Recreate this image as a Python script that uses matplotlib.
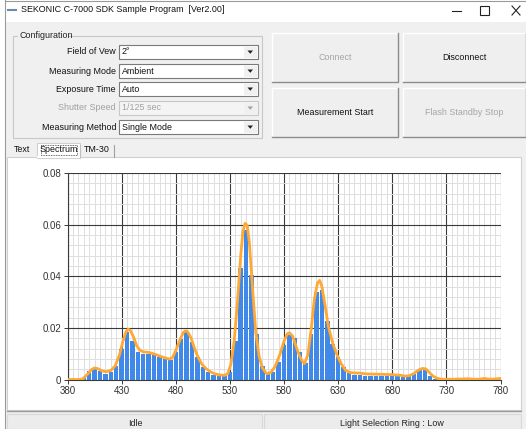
import matplotlib.pyplot as plt
from matplotlib.patches import Rectangle, Polygon
from matplotlib.ticker import MultipleLocator, FuncFormatter

plt.rcParams['font.family'] = ['Liberation Sans', 'DejaVu Sans']

# bar data: 5 nm steps
bar_wl = list(range(380, 785, 5))
bar_val = [0, 0, 0, 0.0006, 0.0032, 0.004, 0.0032, 0.002, 0.0028, 0.0054,
           0.012, 0.0183, 0.015, 0.0106, 0.0099, 0.0099, 0.0093, 0.0086, 0.008, 0.0074,
           0.0106, 0.0158, 0.0183, 0.0145, 0.0087, 0.005, 0.003, 0.0017, 0.0013, 0.0013,
           0.003, 0.015, 0.0432, 0.058, 0.0406, 0.0176, 0.0052, 0.002, 0.003, 0.0069,
           0.0134, 0.0172, 0.016, 0.0106, 0.0063, 0.0177, 0.0338, 0.0345, 0.0228, 0.0138,
           0.0086, 0.0048, 0.0025, 0.0019, 0.0019, 0.0015, 0.0015, 0.0013, 0.0013, 0.0012,
           0.0012, 0.0013, 0.0009, 0.0013, 0.0022, 0.0035, 0.0037, 0.0012, 0.0003, 0,
           0, 0, 0, 0, 0, 0, 0, 0, 0, 0, 0]

# orange curve
curve_wl = [380, 390, 394, 398, 402, 405, 408, 412, 416, 420, 424, 428, 431, 434, 436, 438,
            441, 444, 447, 450, 455, 460, 465, 470, 474, 477, 480, 484, 487, 489, 491, 494,
            497, 500, 504, 508, 512, 516, 520, 525, 528, 531, 534, 537, 540, 542, 544, 546,
            548, 551, 554, 557, 560, 564, 568, 572, 576, 580, 583, 585, 588, 591, 594, 597,
            599, 602, 605, 608, 611, 613, 615, 618, 621, 625, 629, 633, 637, 641, 646, 650,
            655, 660, 670, 680, 688, 692, 696, 700, 704, 708, 711, 714, 718, 722, 726, 735,
            745, 750, 755, 760, 765, 770, 775, 780]
curve_val = [0, 0, 0.0002, 0.0018, 0.0038, 0.0045, 0.0042, 0.0033, 0.003, 0.0035, 0.0052,
             0.0095, 0.0145, 0.0185, 0.0195, 0.019, 0.0165, 0.013, 0.0113, 0.0107, 0.0105,
             0.0099, 0.0091, 0.0084, 0.0079, 0.0085, 0.0112, 0.0155, 0.0182, 0.0189, 0.0185,
             0.0162, 0.0125, 0.0092, 0.006, 0.0042, 0.003, 0.0022, 0.0018, 0.0016, 0.0022,
             0.006, 0.015, 0.03, 0.048, 0.057, 0.0605, 0.0598, 0.053, 0.035, 0.018, 0.009,
             0.0045, 0.0022, 0.0028, 0.0052, 0.0095, 0.0148, 0.0177, 0.0181, 0.0168, 0.013,
             0.0095, 0.007, 0.0062, 0.0095, 0.019, 0.031, 0.0375, 0.0384, 0.036, 0.0285,
             0.0205, 0.014, 0.0095, 0.006, 0.0035, 0.0027, 0.0025, 0.0025, 0.0022, 0.0021,
             0.002, 0.0019, 0.0016, 0.0013, 0.0015, 0.0023, 0.0036, 0.0043, 0.0041, 0.0028,
             0.0012, 0.0004, 0.0001, 0.0001, 0.0002, 0.0003, 0.0001, 0.0001, 0.0004, 0.0001,
             0.0002, 0.0004]
x_ticks = [380, 430, 480, 530, 580, 630, 680, 730, 780]

config_labels = ["Field of Vew", "Measuring Mode", "Exposure Time", "Shutter Speed", "Measuring Method"]
config_values = ["2°", "Ambient", "Auto", "1/125 sec", "Single Mode"]
config_enabled = [True, True, True, False, True]
buttons = [("Connect", False), ("Disconnect", True), ("Measurement Start", True), ("Flash Standby Stop", False)]

W, H = 526, 429
fig = plt.figure(figsize=(W / 100, H / 100), dpi=100)
fig.patch.set_facecolor("white")

# window, drawn in pixel coords
bg = fig.add_axes([0, 0, 1, 1])
bg.set_xlim(0, W)
bg.set_ylim(H, 0)
bg.axis("off")
fs = 6.4

bg.add_patch(Rectangle((5, 22), W - 5, H - 22, facecolor="#f0f0f0", edgecolor="none"))
bg.plot([5, 5], [0, H], color="#9a9a9a", lw=0.8)
bg.plot([5, W], [0.5, 0.5], color="#9a9a9a", lw=0.8)

# title bar
bg.plot([8, 16], [10, 10], color="#6d87b0", lw=1.5)
bg.text(21, 10, "SEKONIC C-7000 SDK Sample Program  [Ver2.00]", fontsize=fs, va="center", color="#111")
bg.plot([452, 461], [10.5, 10.5], color="#222", lw=0.8)
bg.add_patch(Rectangle((480, 6), 9, 9, facecolor="none", edgecolor="#222", lw=0.8))
bg.plot([512, 520], [6, 15], color="#222", lw=0.8)
bg.plot([512, 520], [15, 6], color="#222", lw=0.8)

# configuration group
bg.add_patch(Rectangle((13, 36), 249, 102, facecolor="none", edgecolor="#c8c8c8", lw=0.8))
bg.add_patch(Rectangle((18, 31), 50, 10, facecolor="#f0f0f0", edgecolor="none"))
bg.text(20, 36, "Configuration", fontsize=fs, va="center", color="#222")
row_y = [52, 71, 89, 108, 127]
for lab, val, en, y in zip(config_labels, config_values, config_enabled, row_y):
    col = "#111" if en else "#a0a0a0"
    bg.text(116, y, lab, fontsize=fs, ha="right", va="center", color=col)
    bg.add_patch(Rectangle((119, y - 7), 139, 14, facecolor="white" if en else "#f4f4f4",
                           edgecolor="#7a7a7a" if en else "#c8c8c8", lw=0.8))
    bg.text(122, y, val, fontsize=fs, va="center", color=col)
    bg.add_patch(Rectangle((244, y - 5.5), 12.5, 11, facecolor="#f0f0f0", edgecolor="none"))
    bg.add_patch(Polygon([[247.5, y - 1.5], [253, y - 1.5], [250.25, y + 1.8]], closed=True,
                         facecolor="#222" if en else "#a0a0a0", edgecolor="none"))

# buttons
btn_xy = [(272, 33), (403, 33), (272, 88), (403, 88)]
for (txt, en), (bx, by) in zip(buttons, btn_xy):
    bw, bh = 126 if bx == 272 else 123, 49
    bg.add_patch(Rectangle((bx, by), bw, bh, facecolor="#efefef", edgecolor="none"))
    bg.plot([bx, bx, bx + bw], [by + bh, by, by], color="white", lw=1)
    bg.plot([bx, bx + bw, bx + bw], [by + bh, by + bh, by], color="#8c8c8c", lw=1)
    bg.text(bx + bw / 2, by + bh / 2, txt, fontsize=fs, ha="center", va="center",
            color="#111" if en else "#a5a5a5")

# tabs
bg.add_patch(Rectangle((7, 157), 514, 253, facecolor="white", edgecolor="#d0d0d0", lw=0.8))
bg.text(14, 150, "Text", fontsize=fs, va="center", color="#111")
bg.add_patch(Rectangle((37, 143), 43, 15, facecolor="white", edgecolor="#d0d0d0", lw=0.8))
bg.plot([37.5, 79.5], [157, 157], color="white", lw=1.5)
bg.add_patch(Rectangle((40.5, 145), 36, 10, facecolor="none", edgecolor="#333", lw=0.6, ls=(0, (1, 1))))
bg.text(58.5, 150, "Spectrum", fontsize=fs, ha="center", va="center", color="#111")
bg.plot([80, 80], [145, 157], color="#c0c0c0", lw=0.8)
bg.text(84, 150, "TM-30", fontsize=fs, va="center", color="#111")
bg.plot([114, 114], [145, 157], color="#a0a0a0", lw=0.8)

# status bar
bg.plot([7, 521], [411, 411], color="#9a9a9a", lw=1)
bg.add_patch(Rectangle((7, 414), 255, 15, facecolor="#ececec", edgecolor="#d8d8d8", lw=0.8))
bg.add_patch(Rectangle((264, 414), 257, 15, facecolor="#ececec", edgecolor="#d8d8d8", lw=0.8))
bg.text(135, 423, "Idle", fontsize=fs, ha="center", va="center", color="#222")
bg.text(392, 423, "Light Selection Ring : Low", fontsize=fs, ha="center", va="center", color="#222")

# chart
ax = fig.add_axes([67.5 / W, (H - 379.5) / H, 433 / W, 206.5 / H])
ax.set_facecolor("white")
ax.bar(bar_wl, bar_val, width=4.1, color="#4189e8", zorder=2)
ax.plot(curve_wl, curve_val, color="#ffa833", lw=2.0, zorder=3, solid_joinstyle="round")
ax.set_xlim(380, 780)
ax.set_ylim(0, 0.08)
ax.set_xticks(x_ticks)
ax.xaxis.set_minor_locator(MultipleLocator(5))
ax.yaxis.set_major_locator(MultipleLocator(0.02))
ax.yaxis.set_minor_locator(MultipleLocator(0.004))
ax.yaxis.set_major_formatter(FuncFormatter(lambda v, p: "0" if v == 0 else f"{v:.2f}"))
ax.set_axisbelow(True)
ax.grid(which="minor", color="#dedede", lw=0.7)
ax.grid(which="major", color="#3a3a3a", lw=0.8)
for s in ["top", "right"]:
    ax.spines[s].set_visible(False)
ax.spines["left"].set_color("#3a3a3a")
ax.spines["bottom"].set_color("#3a3a3a")
ax.tick_params(which="major", length=3, width=0.7, color="#3a3a3a", labelsize=7,
               labelcolor="#333", pad=1.5)
ax.tick_params(which="minor", length=0)

fig.savefig("out.png", dpi=100, facecolor=fig.get_facecolor())
